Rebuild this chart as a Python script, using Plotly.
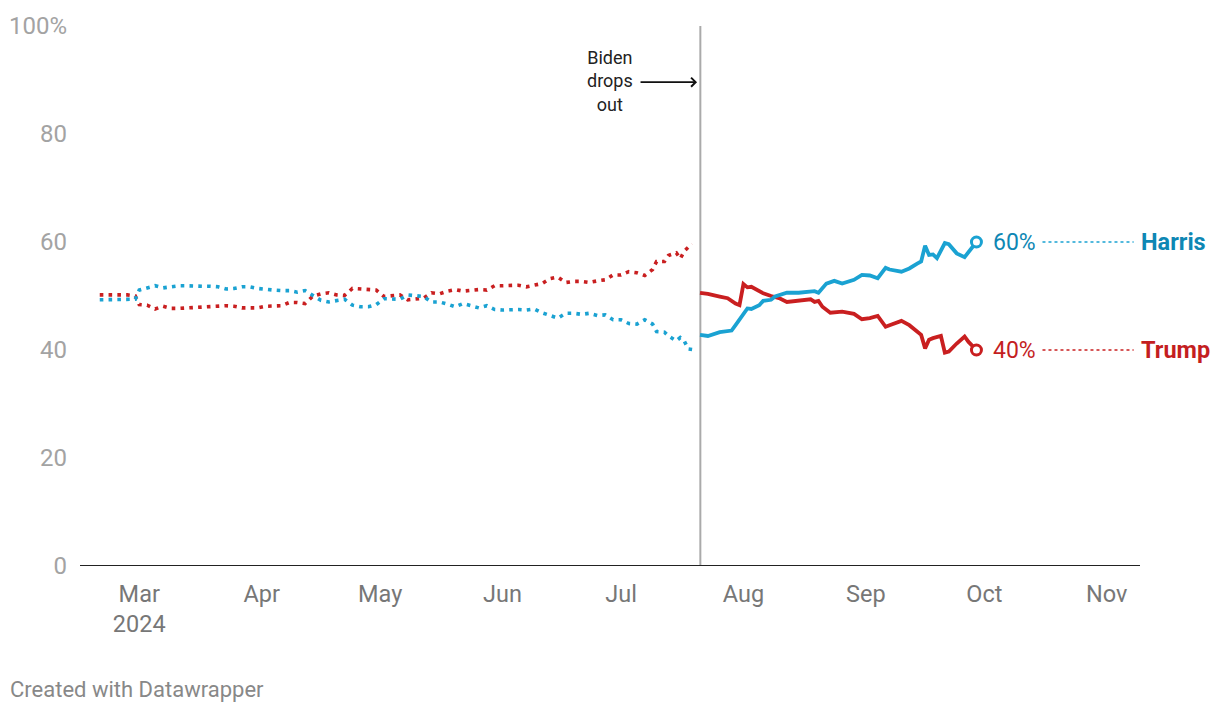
import plotly.graph_objects as go

# ---------------- data ----------------
pre_dates = [
    "2024-02-20", "2024-02-22", "2024-02-24", "2024-02-27", "2024-02-29",
    "2024-03-01", "2024-03-03", "2024-03-05", "2024-03-07", "2024-03-09",
    "2024-03-11", "2024-03-13", "2024-03-15", "2024-03-17", "2024-03-19",
    "2024-03-21", "2024-03-23", "2024-03-25", "2024-03-27", "2024-03-29",
    "2024-03-31", "2024-04-02", "2024-04-04", "2024-04-06", "2024-04-08",
    "2024-04-10", "2024-04-12", "2024-04-14", "2024-04-16", "2024-04-18",
    "2024-04-20", "2024-04-22", "2024-04-24", "2024-04-26", "2024-04-28",
    "2024-04-30", "2024-05-02", "2024-05-04", "2024-05-06", "2024-05-08",
    "2024-05-10", "2024-05-12", "2024-05-14", "2024-05-16", "2024-05-18",
    "2024-05-20", "2024-05-22", "2024-05-24", "2024-05-26", "2024-05-28",
    "2024-05-30", "2024-06-01", "2024-06-03", "2024-06-05", "2024-06-07",
    "2024-06-09", "2024-06-11", "2024-06-13", "2024-06-15", "2024-06-17",
    "2024-06-19", "2024-06-21", "2024-06-23", "2024-06-25", "2024-06-27",
    "2024-06-29", "2024-07-01", "2024-07-03", "2024-07-05", "2024-07-07",
    "2024-07-09", "2024-07-10", "2024-07-12", "2024-07-13", "2024-07-15",
    "2024-07-16", "2024-07-17", "2024-07-18", "2024-07-19",
]
pre_dem = [
    49.3, 49.3, 49.3, 49.3, 49.4,
    51.1, 51.5, 51.9, 51.5, 51.7,
    51.9, 51.9, 51.8, 51.8, 51.8,
    51.7, 51.3, 51.4, 51.7, 51.7,
    51.4, 51.2, 51.1, 51.0, 51.0,
    50.7, 51.0, 50.1, 49.2, 48.9,
    49.1, 49.4, 48.3, 48.0, 48.0,
    48.4, 49.5, 49.5, 49.4, 50.2,
    50.0, 49.9, 48.9, 48.9, 48.5,
    48.0, 48.6, 48.2, 47.8, 48.2,
    47.5, 47.4, 47.5, 47.5, 47.4,
    47.6, 46.9, 46.4, 45.9, 46.8,
    46.8, 46.6, 46.8, 46.4, 46.5,
    45.6, 45.6, 44.9, 44.8, 45.6,
    44.8, 43.4, 43.3, 42.6, 41.7,
    42.3, 41.7, 40.2, 40.1,
]
pre_rep = [
    50.2, 50.2, 50.2, 50.2, 50.0,
    48.4, 48.3, 47.6, 48.1, 47.7,
    47.7, 47.8, 47.8, 48.0, 48.0,
    48.2, 48.2, 48.1, 47.8, 47.8,
    47.8, 48.1, 48.2, 48.2, 48.8,
    48.8, 48.6, 50.0, 50.4, 50.6,
    50.2, 50.1, 51.4, 51.3, 51.2,
    51.1, 49.9, 50.0, 50.2, 49.3,
    49.4, 49.6, 50.6, 50.4, 50.9,
    51.2, 50.9, 51.1, 51.2, 51.1,
    51.9, 51.9, 51.9, 52.0, 51.7,
    52.0, 52.3, 53.2, 53.5, 52.5,
    52.7, 52.7, 52.5, 52.8, 53.0,
    53.9, 53.9, 54.5, 54.3, 53.8,
    54.9, 56.4, 56.4, 57.5, 58.0,
    56.9, 58.3, 59.0, 59.6,
]

harris_dates = [
    "2024-07-21", "2024-07-23", "2024-07-26", "2024-07-29", "2024-07-30",
    "2024-08-01", "2024-08-02", "2024-08-03", "2024-08-05", "2024-08-06",
    "2024-08-08", "2024-08-09", "2024-08-12", "2024-08-15", "2024-08-18",
    "2024-08-19", "2024-08-20", "2024-08-22", "2024-08-24", "2024-08-26",
    "2024-08-29", "2024-08-31", "2024-09-02", "2024-09-04", "2024-09-06",
    "2024-09-07", "2024-09-10", "2024-09-12", "2024-09-14", "2024-09-15",
    "2024-09-16", "2024-09-17", "2024-09-18", "2024-09-19", "2024-09-21",
    "2024-09-22", "2024-09-24", "2024-09-26", "2024-09-29",
]
harris = [
    42.8, 42.6, 43.3, 43.6, 44.6,
    46.8, 47.7, 47.6, 48.3, 49.1,
    49.3, 49.9, 50.6, 50.6, 50.7,
    50.9, 50.6, 52.3, 52.8, 52.3,
    53.0, 53.9, 53.8, 53.3, 55.2,
    54.9, 54.5, 55.1, 56.0, 56.4,
    59.3, 57.6, 57.7, 57.0, 59.8,
    59.6, 57.9, 57.2, 60.0,
]

trump_dates = [
    "2024-07-21", "2024-07-23", "2024-07-26", "2024-07-28", "2024-07-30",
    "2024-07-31", "2024-08-01", "2024-08-02", "2024-08-03", "2024-08-06",
    "2024-08-08", "2024-08-10", "2024-08-12", "2024-08-15", "2024-08-18",
    "2024-08-19", "2024-08-20", "2024-08-21", "2024-08-23", "2024-08-26",
    "2024-08-29", "2024-08-31", "2024-09-02", "2024-09-04", "2024-09-06",
    "2024-09-07", "2024-09-10", "2024-09-12", "2024-09-14", "2024-09-15",
    "2024-09-16", "2024-09-17", "2024-09-18", "2024-09-20", "2024-09-21",
    "2024-09-22", "2024-09-24", "2024-09-26", "2024-09-27", "2024-09-29",
]
trump = [
    50.6, 50.4, 49.9, 49.6, 48.6,
    48.3, 52.2, 51.6, 51.7, 50.5,
    50.0, 49.6, 48.9, 49.1, 49.4,
    48.9, 49.1, 48.0, 46.9, 47.1,
    46.7, 45.7, 45.9, 46.3, 44.3,
    44.6, 45.4, 44.6, 43.4, 42.8,
    40.3, 41.9, 42.2, 42.6, 39.5,
    39.7, 41.2, 42.5, 41.5, 40.0,
]

y_ticks = [0, 20, 40, 60, 80, 100]
y_tick_labels = ["0", "20", "40", "60", "80", "100%"]
x_ticks = ["2024-03-01", "2024-04-01", "2024-05-01", "2024-06-01",
           "2024-07-01", "2024-08-01", "2024-09-01", "2024-10-01", "2024-11-01"]
x_tick_labels = ["Mar<br>2024", "Apr", "May", "Jun", "Jul", "Aug", "Sep", "Oct", "Nov"]
dropout_date = "2024-07-21 02:00"
x_range = ["2024-02-15", "2024-11-09 10:00"]

BLUE = "#1aa2d2"
BLUE_TXT = "#0e87b4"
RED = "#c91f20"
RED_TXT = "#c41e1f"
FONT = "Roboto"

# ---------------- figure ----------------
fig = go.Figure()

dot = "3.6px,5.2px"
fig.add_trace(go.Scatter(x=pre_dates, y=pre_rep, mode="lines",
                         line=dict(color=RED, width=3.6, dash=dot), hoverinfo="skip"))
fig.add_trace(go.Scatter(x=pre_dates, y=pre_dem, mode="lines",
                         line=dict(color=BLUE, width=3.6, dash=dot), hoverinfo="skip"))
fig.add_trace(go.Scatter(x=trump_dates, y=trump, mode="lines",
                         line=dict(color=RED, width=3.8), hoverinfo="skip"))
fig.add_trace(go.Scatter(x=harris_dates, y=harris, mode="lines",
                         line=dict(color=BLUE, width=3.8), hoverinfo="skip"))
# end markers
fig.add_trace(go.Scatter(x=[harris_dates[-1]], y=[harris[-1]], mode="markers",
                         marker=dict(size=10, color="white", line=dict(color=BLUE, width=3)),
                         hoverinfo="skip", cliponaxis=False))
fig.add_trace(go.Scatter(x=[trump_dates[-1]], y=[trump[-1]], mode="markers",
                         marker=dict(size=10, color="white", line=dict(color=RED, width=3)),
                         hoverinfo="skip", cliponaxis=False))

shapes = []
# baseline
shapes.append(dict(type="line", xref="paper", yref="y", x0=0, x1=1, y0=0, y1=0,
                   line=dict(color="#222222", width=2), layer="above"))
# dropout vertical line
shapes.append(dict(type="line", xref="x", yref="y", x0=dropout_date, x1=dropout_date,
                   y0=0, y1=100.5, line=dict(color="#aaaaaa", width=2), layer="below"))
# connectors to labels
for val, col in [(harris[-1], BLUE), (trump[-1], RED)]:
    shapes.append(dict(type="line", xref="paper", yref="y", x0=0.908, x1=0.994,
                       y0=val, y1=val, line=dict(color=col, width=1.5, dash="3px,3px")))

annotations = []
annotations.append(dict(x=0.859, xref="paper", y=harris[-1], yref="y",
                        text=f"{harris[-1]:.0f}%", showarrow=False, xanchor="left",
                        yanchor="middle", font=dict(family=FONT, size=23, color=BLUE_TXT)))
annotations.append(dict(x=0.859, xref="paper", y=trump[-1], yref="y",
                        text=f"{trump[-1]:.0f}%", showarrow=False, xanchor="left",
                        yanchor="middle", font=dict(family=FONT, size=23, color=RED_TXT)))
annotations.append(dict(x=0.999, xref="paper", y=harris[-1], yref="y",
                        text="<b>Harris</b>", showarrow=False, xanchor="left",
                        yanchor="middle", font=dict(family=FONT, size=23.5, color=BLUE_TXT)))
annotations.append(dict(x=0.999, xref="paper", y=trump[-1], yref="y",
                        text="<b>Trump</b>", showarrow=False, xanchor="left",
                        yanchor="middle", font=dict(family=FONT, size=23.5, color=RED_TXT)))
# Biden drops out annotation
annotations.append(dict(x="2024-06-28 06:00", xref="x", y=89.8, yref="y",
                        text="Biden<br>drops<br>out", showarrow=False, xanchor="center",
                        yanchor="middle", align="center",
                        font=dict(family=FONT, size=18, color="#222222")))
annotations.append(dict(x="2024-07-20 06:00", xref="x", y=89.6, yref="y",
                        ax=-58, ay=0, axref="pixel", ayref="pixel", text="",
                        showarrow=True, arrowhead=4, arrowsize=1.1, arrowwidth=1.6,
                        arrowcolor="#111111"))
# footer
annotations.append(dict(x=-0.0679, xref="paper", y=-0.2296, yref="paper",
                        text="Created with Datawrapper", showarrow=False,
                        xanchor="left", yanchor="middle",
                        font=dict(family=FONT, size=22, color="#888888")))

fig.update_layout(
    width=1220, height=714,
    margin=dict(l=72, r=88, t=18, b=156, autoexpand=False),
    paper_bgcolor="white", plot_bgcolor="white",
    showlegend=False,
    hovermode=False,
    font=dict(family=FONT),
    shapes=shapes,
    annotations=annotations,
    xaxis=dict(range=x_range, type="date", tickvals=x_ticks, ticktext=x_tick_labels,
               showgrid=False, zeroline=False, showline=False, ticks="",
               automargin=False, ticklabelstandoff=11,
               tickfont=dict(family=FONT, size=23.5, color="#777777")),
    yaxis=dict(range=[0, 100], tickvals=y_ticks, ticktext=y_tick_labels,
               showgrid=False, zeroline=False, showline=False, ticks="",
               automargin=False, ticklabelstandoff=12,
               tickfont=dict(family=FONT, size=24, color="#a3a3a3")),
)

fig.write_html("out.html")
